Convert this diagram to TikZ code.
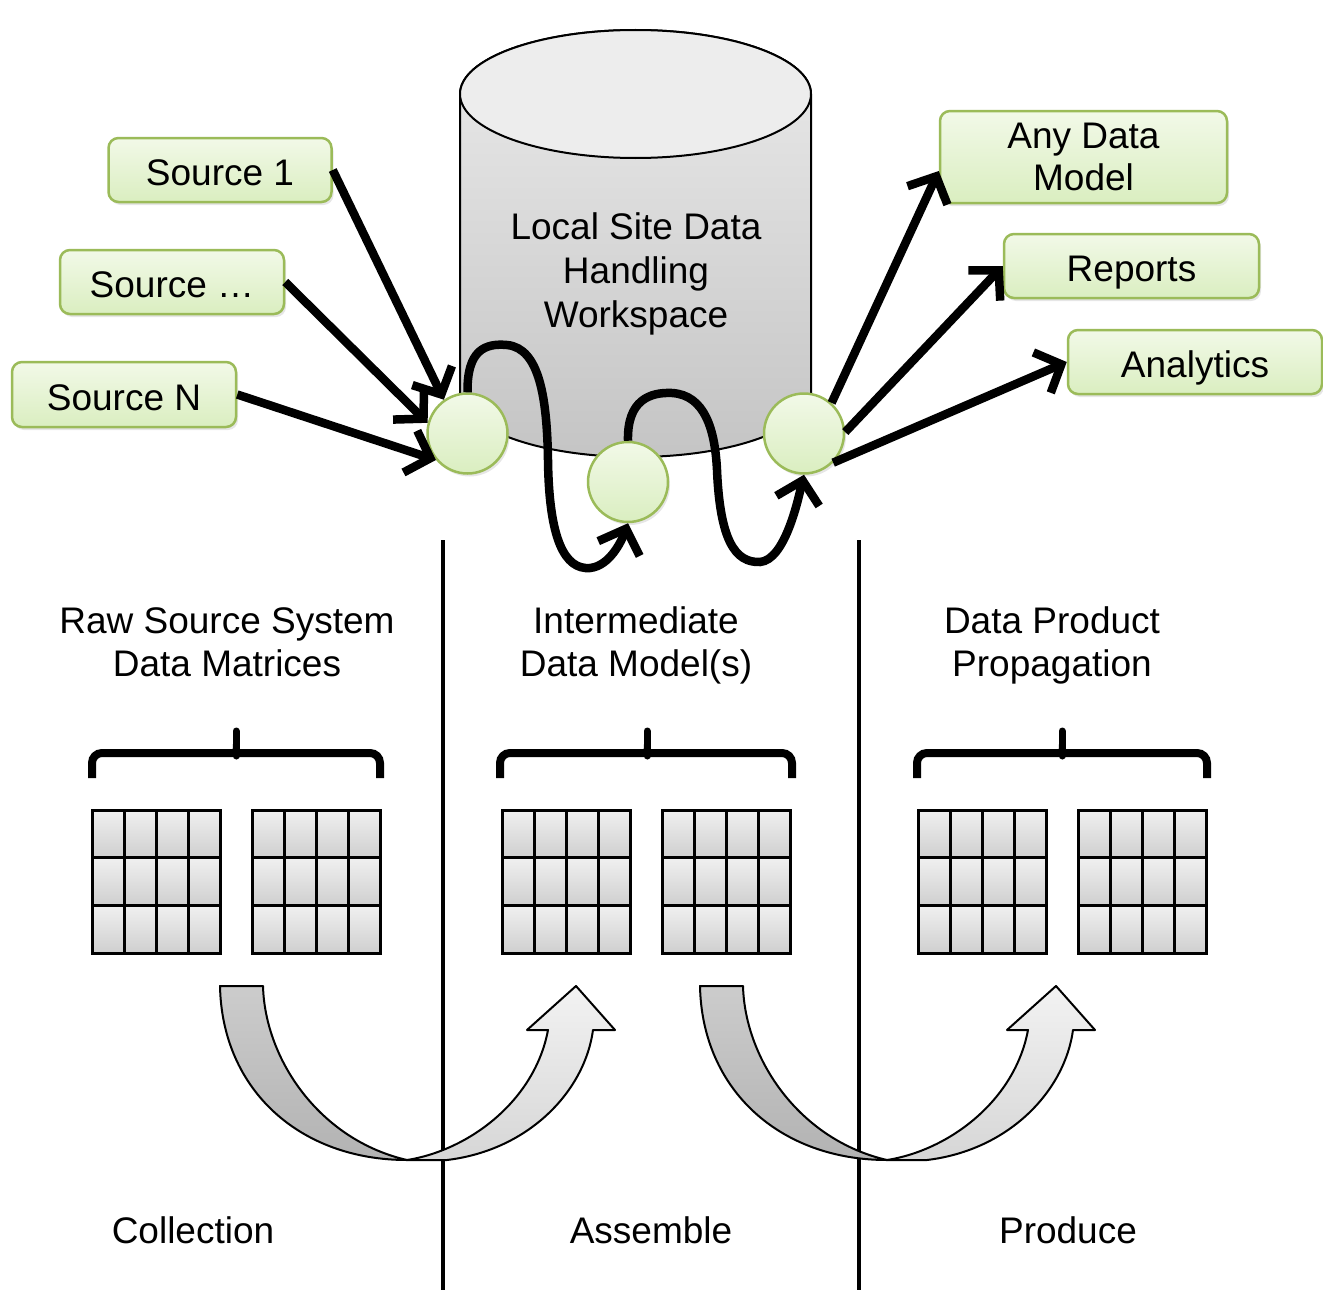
\documentclass[tikz,border=0pt]{standalone}
\usepackage{fontspec}
\setmainfont{Liberation Sans}
\usetikzlibrary{arrows.meta,shadows}
\definecolor{gborder}{HTML}{9BBB59}
\definecolor{gtop}{HTML}{F2F9E8}
\definecolor{gbot}{HTML}{DAEEC0}
\definecolor{celltop}{HTML}{F0F0F0}
\definecolor{cellbot}{HTML}{CFCFCF}
\begin{document}
\begin{tikzpicture}[x=1pt,y=-1pt,
  lbl/.style={font=\fontsize{37}{43}\selectfont, align=center},
  gbox/.style={draw=gborder, line width=2.5pt, rounded corners=10pt, top color=gtop, bottom color=gbot,
     lbl, inner sep=0pt, drop shadow={opacity=0.2, shadow xshift=2pt, shadow yshift=-3pt}},
  onel/.style={text height=34pt, text depth=3pt},
  gcirc/.style={circle, draw=gborder, line width=2.5pt, top color=gtop, bottom color=gbot,
     minimum size=80pt, inner sep=0pt, drop shadow={opacity=0.2, shadow xshift=2pt, shadow yshift=-3pt}},
  flow/.style={line width=8.5pt, -{Straight Barb[length=21pt,width=44pt]}},
  bracketline/.style={line width=8pt, rounded corners=10pt},
  divider/.style={line width=4pt},
  gridline/.style={line width=3pt},
  bandline/.style={line width=2pt, line join=round},
]
\useasboundingbox (0,0) rectangle (1323,1290);

% cylinder
\path[draw=black, line width=2pt, top color=black!8, bottom color=black!23]
  (460,94) -- (460,393) arc[start angle=180,end angle=360,x radius=175.5pt,y radius=64pt]
  -- (811,94) arc[start angle=0,end angle=180,x radius=175.5pt,y radius=64pt] -- cycle;
\draw[line width=2pt, fill=black!7] (635.5,94) ellipse[x radius=175.5pt, y radius=64pt];
\node[lbl, font=\fontsize{37}{44}\selectfont] (ws) at (636,274) {Local Site Data\\Handling\\Workspace};

% boxes
\node[gbox, onel, minimum width=223pt, minimum height=64pt] (s1) at (220,170) {Source 1};
\node[gbox, onel, minimum width=224pt, minimum height=64pt] (s2) at (172,282) {Source …};
\node[gbox, onel, minimum width=224pt, minimum height=65pt] (sN) at (124,394.5) {Source N};
\node[gbox, minimum width=287pt, minimum height=92pt, font=\fontsize{37}{42}\selectfont] (adm) at (1083.5,157) {Any Data\\Model};
\node[gbox, onel, minimum width=255pt, minimum height=64pt] (rep) at (1131.5,266) {Reports};
\node[gbox, onel, minimum width=254pt, minimum height=64pt] (ana) at (1195,362) {Analytics};

% circles
\node[gcirc] (c1) at (467.5,433.5) {};
\node[gcirc] (c2) at (628,482) {};
\node[gcirc] (c3) at (804,433.5) {};

% wiggles
\draw[flow] (c1.north) .. controls (467,350) and (485,343) .. (507,345)
  .. controls (540,348) and (547,400) .. (548,460)
  .. controls (549,540) and (565,570) .. (590,568)
  .. controls (610,566) and (622,540) .. (c2.south);
\draw[flow] (c2.north) .. controls (627,400) and (650,392) .. (672,393)
  .. controls (705,395) and (715,430) .. (717,470)
  .. controls (720,540) and (735,563) .. (760,562)
  .. controls (785,560) and (798,500) .. (c3.south);

% source arrows
\draw[flow] (s1.east) -- (c1.125);
\draw[flow] (s2.east) -- (c1.165);
\draw[flow] (sN.east) -- (c1.220);
% output arrows
\coordinate (admin) at ([yshift=-14pt]adm.west);
\draw[flow] (c3.48) -- (admin);
\draw[flow] (c3.2) -- (rep.west);
\draw[flow] (c3.-45) -- (ana.west);

% dividers
\draw[divider] (443,540) -- (443,1290);
\draw[divider] (859,540) -- (859,1290);

% headings
\node[lbl] (h1) at (227,642) {Raw Source System\\Data Matrices};
\node[lbl] (h2) at (636,645) {Intermediate\\Data Model(s)};
\node[lbl] (h3) at (1052,645) {Data Product\\Propagation};

% brackets
\foreach \bl/\br/\bm in {92/380/236, 500/792/647, 917/1207/1062}{
  \draw[bracketline] (\bl,778) -- (\bl,753) -- (\br,753) -- (\br,778);
  \draw[line width=7pt, line cap=round] (\bm,756) -- (\bm,731);
  \fill (\bm-10,753) .. controls (\bm-3,753) and (\bm-3,750) .. (\bm-3,744) -- (\bm+3,744) .. controls (\bm+3,750) and (\bm+3,753) .. (\bm+10,753) -- cycle;
}

% grids
\foreach \gx in {92,252,502,662,918,1078}{
  \foreach \i in {0,...,3}{
    \foreach \j in {0,1,2}{
      \shade[top color=celltop, bottom color=cellbot] (\gx+\i*32,810+\j*47.667) rectangle ++(32,47.667);
    }
  }
  \draw[gridline] (\gx,810) rectangle ++(128,143);
  \draw[gridline] (\gx+32,810) -- ++(0,143) (\gx+64,810) -- ++(0,143) (\gx+96,810) -- ++(0,143);
  \draw[gridline] (\gx,857.667) -- ++(128,0) (\gx,905.333) -- ++(128,0);
}

% curved arrows
\foreach \sx in {0,480}{
  \begin{scope}[shift={(\sx,0)}]
    \path[bandline, draw=black, top color=black!5, bottom color=black!16]
      (407,1160) -- (447,1160) .. controls (530,1150) and (585,1090) .. (593,1030)
      -- (615,1030) -- (576,986) -- (527,1030) -- (548,1030)
      .. controls (535,1100) and (470,1150) .. (407,1160) -- cycle;
    \path[bandline, draw=black, top color=black!20, bottom color=black!30]
      (220,986) -- (263,986) .. controls (265,1060) and (320,1140) .. (407,1160)
      .. controls (300,1160) and (222,1090) .. (220,986) -- cycle;
  \end{scope}
}

% bottom labels
\node[lbl] (b1) at (193,1230) {Collection};
\node[lbl] (b2) at (651,1230) {Assemble};
\node[lbl] (b3) at (1068,1230) {Produce};
\end{tikzpicture}
\end{document}
